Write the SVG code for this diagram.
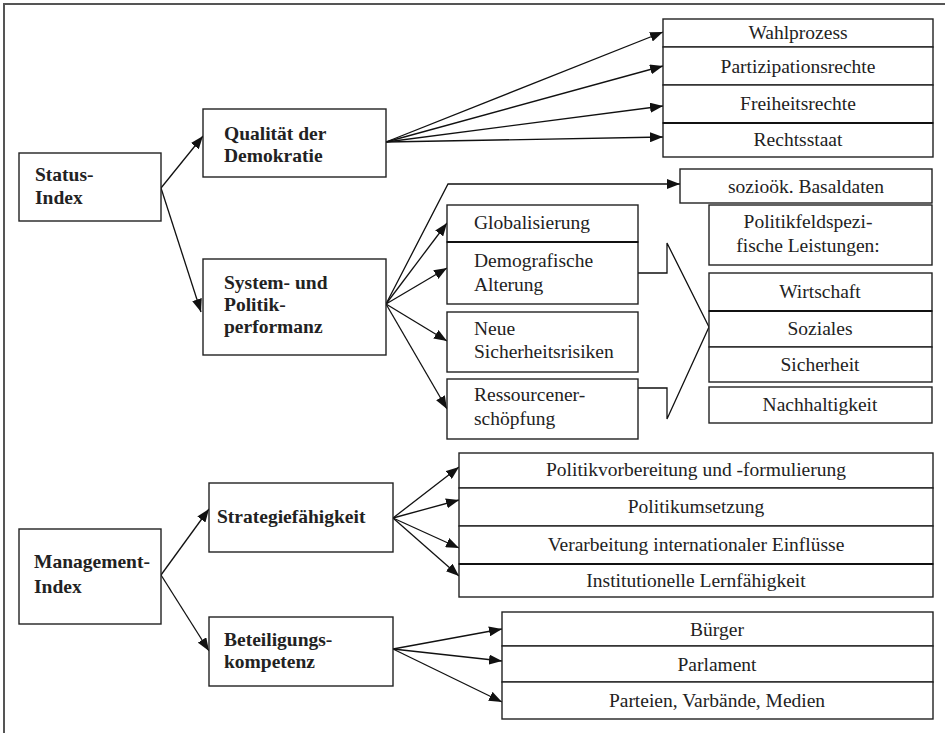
<svg xmlns="http://www.w3.org/2000/svg" width="945" height="733" viewBox="0 0 945 733">
<style>
.b{fill:#fff;stroke:#222;stroke-width:1.4}
.t{font-family:"Liberation Serif","Times New Roman",serif;font-size:19.5px;fill:#222}
.tb{font-family:"Liberation Serif","Times New Roman",serif;font-size:19.5px;font-weight:bold;fill:#222}
.m{text-anchor:middle}
.c{fill:none;stroke:#111;stroke-width:1.3}
</style>
<defs>
<marker id="ah" viewBox="0 0 13 10" refX="13" refY="5" markerWidth="13" markerHeight="10" markerUnits="userSpaceOnUse" orient="auto"><path d="M0,0 L13,5 L0,10 z" fill="#111"/></marker>
</defs>
<rect width="945" height="733" fill="#fff"/>
<path d="M4,733 V4 H945" fill="none" stroke="#555" stroke-width="2"/>

<g id="connectors">
<line class="c" x1="161" y1="188" x2="203" y2="136" marker-end="url(#ah)"/>
<line class="c" x1="161" y1="188" x2="201" y2="312" marker-end="url(#ah)"/>
<line class="c" x1="386" y1="142" x2="663" y2="32" marker-end="url(#ah)"/>
<line class="c" x1="386" y1="142" x2="663" y2="66" marker-end="url(#ah)"/>
<line class="c" x1="386" y1="142" x2="663" y2="106" marker-end="url(#ah)"/>
<line class="c" x1="386" y1="142" x2="663" y2="137" marker-end="url(#ah)"/>
<polyline class="c" points="386,304 448,184 680,184" marker-end="url(#ah)"/>
<line class="c" x1="386" y1="304" x2="447" y2="223" marker-end="url(#ah)"/>
<line class="c" x1="386" y1="304" x2="447" y2="268" marker-end="url(#ah)"/>
<line class="c" x1="386" y1="304" x2="447" y2="341" marker-end="url(#ah)"/>
<line class="c" x1="386" y1="304" x2="447" y2="409" marker-end="url(#ah)"/>
<path class="c" d="M638,273 H667 V243 L709,327 L667,419 V388 H638"/>
<line class="c" x1="161" y1="575" x2="209" y2="509" marker-end="url(#ah)"/>
<line class="c" x1="161" y1="575" x2="209" y2="651" marker-end="url(#ah)"/>
<line class="c" x1="393" y1="518" x2="459" y2="467" marker-end="url(#ah)"/>
<line class="c" x1="393" y1="518" x2="459" y2="500" marker-end="url(#ah)"/>
<line class="c" x1="393" y1="518" x2="459" y2="548" marker-end="url(#ah)"/>
<line class="c" x1="393" y1="518" x2="459" y2="576" marker-end="url(#ah)"/>
<line class="c" x1="393" y1="649" x2="502" y2="629" marker-end="url(#ah)"/>
<line class="c" x1="393" y1="649" x2="502" y2="661" marker-end="url(#ah)"/>
<line class="c" x1="393" y1="649" x2="502" y2="702" marker-end="url(#ah)"/>
</g>

<g id="status-index">
<rect class="b" x="19" y="153" width="142" height="68"/>
<text class="tb" x="35" y="181">Status-</text>
<text class="tb" x="35" y="204">Index</text>
</g>
<g id="qualitaet">
<rect class="b" x="203" y="109" width="183" height="68"/>
<text class="tb" x="224" y="140">Qualität der</text>
<text class="tb" x="224" y="162">Demokratie</text>
</g>
<g id="system">
<rect class="b" x="203" y="259" width="183" height="96"/>
<text class="tb" x="224" y="289">System- und</text>
<text class="tb" x="224" y="311">Politik-</text>
<text class="tb" x="224" y="333">performanz</text>
</g>
<g id="demokratie-items">
<rect class="b" x="663" y="19" width="270" height="28"/>
<rect class="b" x="663" y="47" width="270" height="38"/>
<rect class="b" x="663" y="85" width="270" height="38"/>
<rect class="b" x="663" y="123" width="270" height="34"/>
<line x1="663" y1="123" x2="933" y2="123" stroke="#111" stroke-width="2.2"/>
<text class="t m" x="798" y="39">Wahlprozess</text>
<text class="t m" x="798" y="73">Partizipationsrechte</text>
<text class="t m" x="798" y="110">Freiheitsrechte</text>
<text class="t m" x="798" y="146">Rechtsstaat</text>
</g>
<g id="trends">
<rect class="b" x="447" y="205" width="191" height="37"/>
<rect class="b" x="447" y="242" width="191" height="62"/>
<line x1="447" y1="242" x2="638" y2="242" stroke="#111" stroke-width="2.2"/>
<rect class="b" x="447" y="312" width="191" height="60"/>
<rect class="b" x="447" y="379" width="191" height="60"/>
<text class="t" x="474" y="229">Globalisierung</text>
<text class="t" x="474" y="267">Demografische</text>
<text class="t" x="474" y="291">Alterung</text>
<text class="t" x="474" y="335">Neue</text>
<text class="t" x="474" y="358">Sicherheitsrisiken</text>
<text class="t" x="474" y="401">Ressourcener-</text>
<text class="t" x="474" y="425">schöpfung</text>
</g>
<g id="basaldaten">
<rect class="b" x="680" y="169" width="252" height="34"/>
<text class="t m" x="806" y="193">sozioök. Basaldaten</text>
</g>
<g id="politikfeld">
<rect class="b" x="709" y="205" width="223" height="60"/>
<text class="t m" x="808" y="228">Politikfeldspezi-</text>
<text class="t m" x="808" y="252">fische Leistungen:</text>
</g>
<g id="leistungen">
<rect class="b" x="709" y="273" width="223" height="38"/>
<rect class="b" x="709" y="311" width="223" height="36"/>
<line x1="709" y1="311" x2="932" y2="311" stroke="#111" stroke-width="2.2"/>
<rect class="b" x="709" y="347" width="223" height="35"/>
<text class="t m" x="820" y="298">Wirtschaft</text>
<text class="t m" x="820" y="335">Soziales</text>
<text class="t m" x="820" y="371">Sicherheit</text>
</g>
<g id="nachhaltigkeit">
<rect class="b" x="709" y="387" width="223" height="36"/>
<text class="t m" x="820" y="411">Nachhaltigkeit</text>
</g>

<g id="management-index">
<rect class="b" x="19" y="529" width="142" height="95"/>
<text class="tb" x="34" y="568">Management-</text>
<text class="tb" x="34" y="593">Index</text>
</g>
<g id="strategie">
<rect class="b" x="209" y="483" width="184" height="69"/>
<text class="tb" x="217" y="523">Strategiefähigkeit</text>
</g>
<g id="beteiligung">
<rect class="b" x="209" y="617" width="184" height="69"/>
<text class="tb" x="224" y="646">Beteiligungs-</text>
<text class="tb" x="224" y="668">kompetenz</text>
</g>
<g id="strategie-items">
<rect class="b" x="459" y="453" width="474" height="35"/>
<rect class="b" x="459" y="488" width="474" height="38"/>
<rect class="b" x="459" y="526" width="474" height="38"/>
<rect class="b" x="459" y="564" width="474" height="33"/>
<line x1="459" y1="564" x2="933" y2="564" stroke="#111" stroke-width="2.2"/>
<text class="t m" x="696" y="476">Politikvorbereitung und -formulierung</text>
<text class="t m" x="696" y="513">Politikumsetzung</text>
<text class="t m" x="696" y="551">Verarbeitung internationaler Einflüsse</text>
<text class="t m" x="696" y="587">Institutionelle Lernfähigkeit</text>
</g>
<g id="beteiligung-items">
<rect class="b" x="502" y="612" width="431" height="34"/>
<rect class="b" x="502" y="646" width="431" height="36"/>
<rect class="b" x="502" y="682" width="431" height="37"/>
<text class="t m" x="717" y="636">Bürger</text>
<text class="t m" x="717" y="671">Parlament</text>
<text class="t m" x="717" y="707">Parteien, Varbände, Medien</text>
</g>
</svg>
